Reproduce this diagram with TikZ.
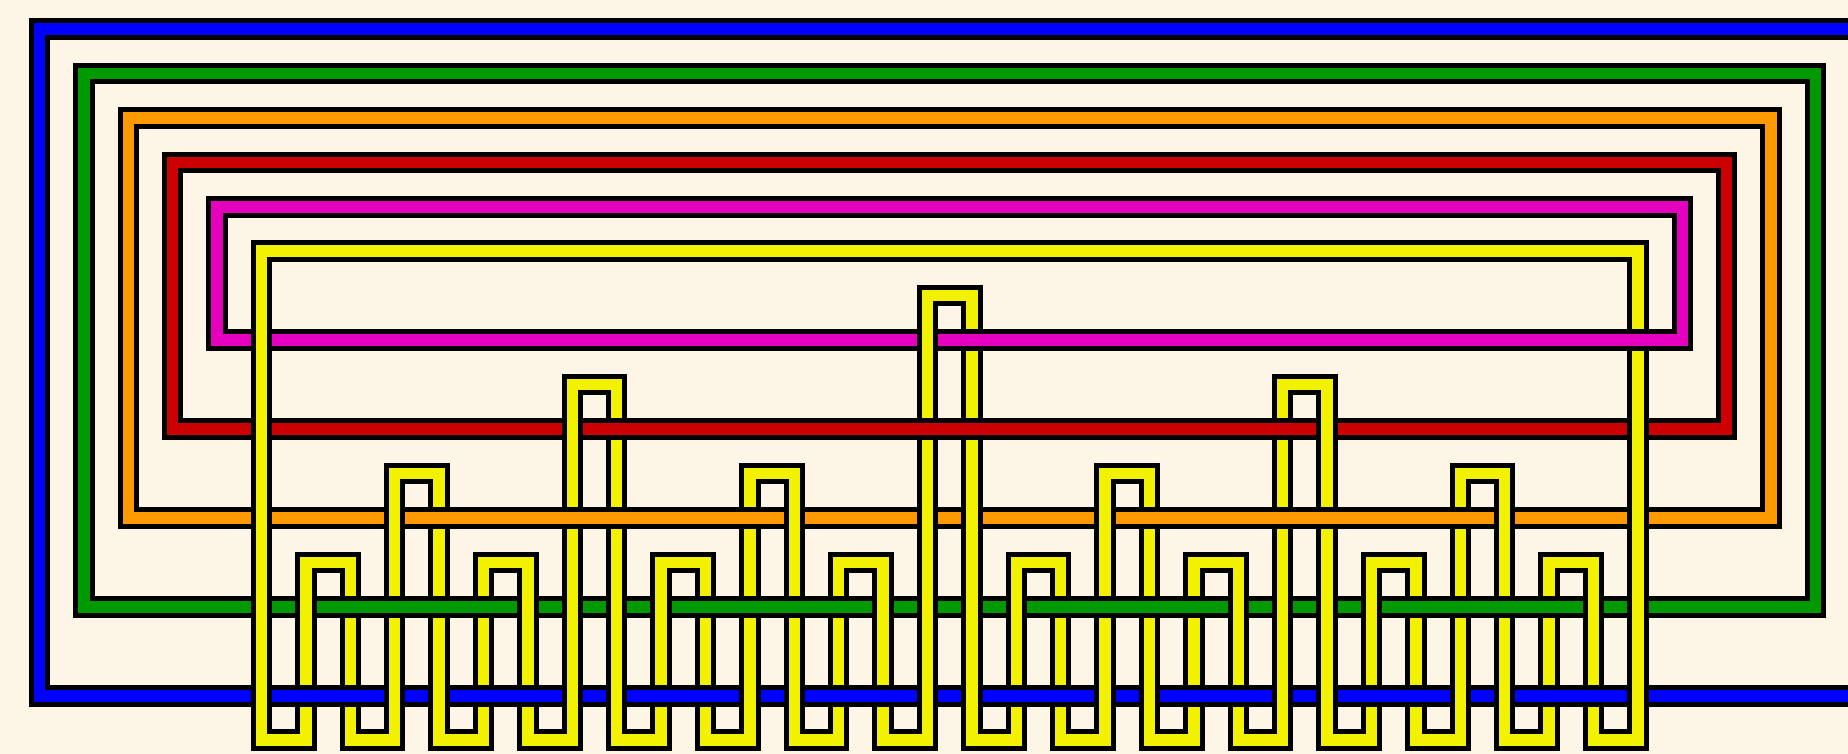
\documentclass[tikz,border=0pt]{standalone}
\definecolor{bg}{RGB}{253,245,230}
\definecolor{cblue}{RGB}{0,0,255}
\definecolor{cgreen}{RGB}{0,153,0}
\definecolor{corange}{RGB}{255,153,0}
\definecolor{cred}{RGB}{204,0,0}
\definecolor{cmagenta}{RGB}{228,0,190}
\definecolor{cyellow}{RGB}{242,242,0}
\tikzset{
  edgeline/.style={draw=black, line width=21.5pt, line join=miter},
  fillline/.style={draw=#1, line width=11.5pt, line join=miter},
}
\newcommand\bandpath[2]{\draw[edgeline] #2; \draw[fillline=#1] #2;}
\begin{document}
\begin{tikzpicture}[x=44.4pt, y=-44.45pt]
\path[use as bounding box] (-39.5pt,29pt) rectangle (1808.5pt,-725pt);
\fill[bg] (-39.5pt,29pt) rectangle (1808.5pt,-725pt);
\clip (-39.5pt,29pt) rectangle (1808.5pt,-725pt);
% nested rings
\bandpath{cblue}{(0,0) rectangle (41,15)}
\bandpath{cgreen}{(1,1) rectangle (40,13)}
\bandpath{corange}{(2,2) rectangle (39,11)}
\bandpath{cred}{(3,3) rectangle (38,9)}
\bandpath{cmagenta}{(4,4) rectangle (37,7)}
% yellow rope
\bandpath{cyellow}{(5,5) -- (5,16) -- (6,16) -- (6,12) -- (7,12) -- (7,16) -- (8,16) -- (8,10) -- (9,10) -- (9,16) -- (10,16) -- (10,12) -- (11,12) -- (11,16) -- (12,16) -- (12,8) -- (13,8) -- (13,16) -- (14,16) -- (14,12) -- (15,12) -- (15,16) -- (16,16) -- (16,10) -- (17,10) -- (17,16) -- (18,16) -- (18,12) -- (19,12) -- (19,16) -- (20,16) -- (20,6) -- (21,6) -- (21,16) -- (22,16) -- (22,12) -- (23,12) -- (23,16) -- (24,16) -- (24,10) -- (25,10) -- (25,16) -- (26,16) -- (26,12) -- (27,12) -- (27,16) -- (28,16) -- (28,8) -- (29,8) -- (29,16) -- (30,16) -- (30,12) -- (31,12) -- (31,16) -- (32,16) -- (32,10) -- (33,10) -- (33,16) -- (34,16) -- (34,12) -- (35,12) -- (35,16) -- (36,16) -- (36,5) -- cycle}
% crossings where the rope passes under a ring
\foreach \X in {21,36} {\bandpath{cmagenta}{(\X-0.36,7) -- (\X+0.36,7)}}
\foreach \X in {13,20,21,28} {\bandpath{cred}{(\X-0.36,9) -- (\X+0.36,9)}}
\foreach \X in {9,12,13,16,25,28,29,32} {\bandpath{corange}{(\X-0.36,11) -- (\X+0.36,11)}}
\foreach \X in {7,8,9,10,15,16,17,18,23,24,25,26,31,32,33,34} {\bandpath{cgreen}{(\X-0.36,13) -- (\X+0.36,13)}}
\foreach \X in {6,7,10,11,14,15,18,19,22,23,26,27,30,31,34,35} {\bandpath{cblue}{(\X-0.36,15) -- (\X+0.36,15)}}
\end{tikzpicture}
\end{document}
